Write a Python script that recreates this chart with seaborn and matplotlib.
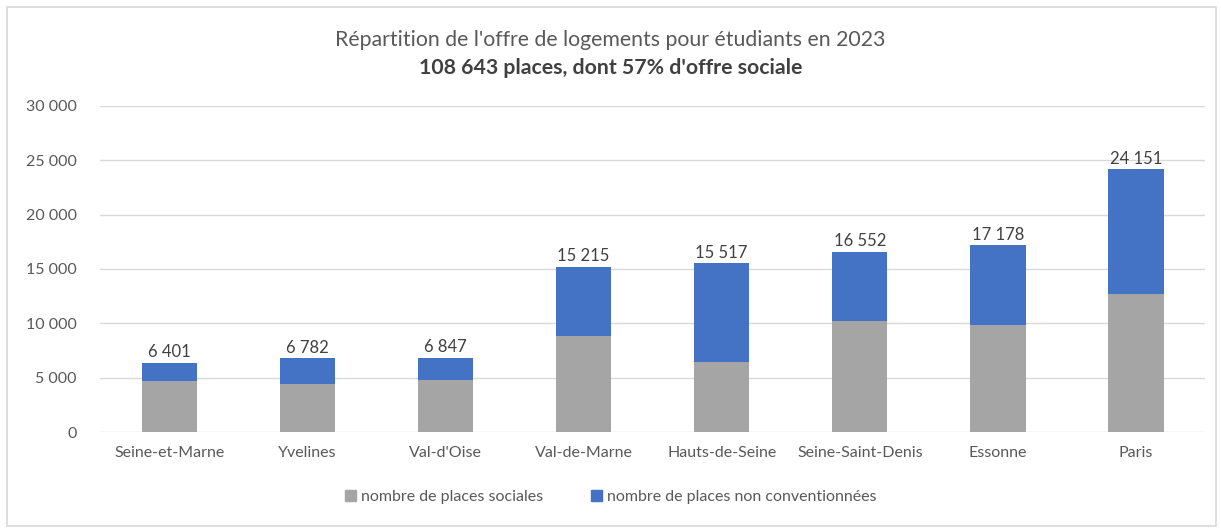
import matplotlib
matplotlib.use("Agg")
import matplotlib.pyplot as plt
import matplotlib.ticker as mticker
from matplotlib.patches import Patch, Rectangle
import seaborn as sns
import pandas as pd

departements = ["Seine-et-Marne", "Yvelines", "Val-d'Oise", "Val-de-Marne",
                "Hauts-de-Seine", "Seine-Saint-Denis", "Essonne", "Paris"]
places_sociales = [4660, 4450, 4820, 8830, 6410, 10180, 9880, 12700]
places_non_conv = [1741, 2332, 2027, 6385, 9107, 6372, 7298, 11451]

df = pd.DataFrame({
    "dep": departements,
    "sociales": places_sociales,
    "non_conv": places_non_conv,
})
df["total"] = df["sociales"] + df["non_conv"]

grey = "#A5A5A5"
blue = "#4472C4"
txt = "#595959"

sns.set_theme(style="white")
plt.rcParams["font.family"] = ["Lato", "DejaVu Sans"]

fig = plt.figure(figsize=(12.21, 5.29), dpi=100)
ax = fig.add_axes([0.082, 0.183, 0.905, 0.617])

# stacked look: total in blue, social part in grey on top of it
sns.barplot(data=df, x="dep", y="total", color=blue, width=0.4,
            saturation=1, linewidth=0, ax=ax, zorder=3)
sns.barplot(data=df, x="dep", y="sociales", color=grey, width=0.4,
            saturation=1, linewidth=0, ax=ax, zorder=4)

for i, t in enumerate(df["total"]):
    ax.text(i, t + 250, f"{t:,}".replace(",", " "), ha="center", va="bottom",
            fontsize=12, color="#404040", zorder=5)

ax.set_ylim(0, 30000)
ax.set_xlim(-0.5, len(departements) - 0.5)
ax.yaxis.set_major_locator(mticker.MultipleLocator(5000))
ax.yaxis.set_major_formatter(mticker.FuncFormatter(lambda v, p: f"{int(v):,}".replace(",", " ")))
ax.grid(axis="y", color="#D9D9D9", linewidth=1, zorder=0)
for s in ax.spines.values():
    s.set_visible(False)
ax.set_xlabel("")
ax.set_ylabel("")
ax.tick_params(axis="y", labelsize=11.5, colors=txt, length=0, pad=17)
ax.tick_params(axis="x", labelsize=11.5, colors=txt, length=0, pad=10)

fig.text(0.5, 0.925, "Répartition de l'offre de logements pour étudiants en 2023",
         ha="center", va="center", fontsize=15.3, color=txt)
fig.text(0.5, 0.872, "108 643 places, dont 57% d'offre sociale",
         ha="center", va="center", fontsize=15.3, color="#404040", fontweight="bold")

handles = [Patch(color=grey, label="nombre de places sociales"),
           Patch(color=blue, label="nombre de places non conventionnées")]
leg = fig.legend(handles=handles, loc="center", bbox_to_anchor=(0.5, 0.06), ncol=2,
                 frameon=False, fontsize=11.5, handlelength=0.7, handleheight=0.7,
                 handletextpad=0.3, columnspacing=3)
for t in leg.get_texts():
    t.set_color(txt)

fig.patches.append(Rectangle((0.006, 0.005), 0.99, 0.982, transform=fig.transFigure,
                             fill=False, edgecolor="#D9D9D9", linewidth=1.2))

fig.savefig("out.png", dpi=100)
